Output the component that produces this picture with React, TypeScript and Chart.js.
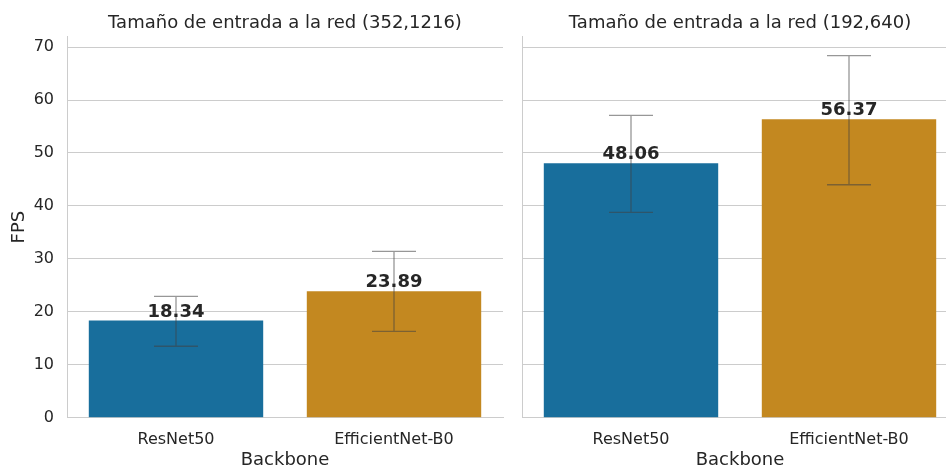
import React, { useEffect, useRef } from "react";
import { Chart, registerables } from "chart.js";

Chart.register(...registerables);

const categories = ["ResNet50", "EfficientNet-B0"];
const fpsLarge = [18.34, 23.89];
const fpsSmall = [48.06, 56.37];
const ciLowLarge = [13.5, 16.3];
const ciHighLarge = [22.9, 31.4];
const ciLowSmall = [38.8, 44.0];
const ciHighSmall = [57.1, 68.4];
const titleLarge = "Tamaño de entrada a la red (352,1216)";
const titleSmall = "Tamaño de entrada a la red (192,640)";
const yLabel = "FPS";
const xLabel = "Backbone";
const barColors = ["#186e9c", "#c38820"];

const FONT = "'DejaVu Sans', sans-serif";
const TEXT = "#262626";
const GRID = "#cccccc";

function makeConfig(values: number[], lo: number[], hi: number[], title: string, showY: boolean): any {
  const overlay = {
    id: "errAndLabels",
    afterDatasetsDraw(chart: any) {
      const ctx = chart.ctx;
      const meta = chart.getDatasetMeta(0);
      const y = chart.scales.y;
      ctx.save();
      ctx.strokeStyle = "rgba(66,66,66,0.55)";
      ctx.lineWidth = 1.3;
      meta.data.forEach((bar: any, i: number) => {
        const x = bar.x;
        const yh = y.getPixelForValue(hi[i]);
        const yl = y.getPixelForValue(lo[i]);
        ctx.beginPath();
        ctx.moveTo(x, yh);
        ctx.lineTo(x, yl);
        ctx.moveTo(x - 22, yh);
        ctx.lineTo(x + 22, yh);
        ctx.moveTo(x - 22, yl);
        ctx.lineTo(x + 22, yl);
        ctx.stroke();
      });
      ctx.fillStyle = TEXT;
      ctx.font = `bold 18px ${FONT}`;
      ctx.textAlign = "center";
      ctx.textBaseline = "alphabetic";
      meta.data.forEach((bar: any, i: number) => {
        ctx.fillText(values[i].toFixed(2), bar.x, bar.y - 4);
      });
      ctx.restore();
    },
  };
  return {
    type: "bar",
    data: {
      labels: categories,
      datasets: [
        {
          data: values,
          backgroundColor: barColors,
          borderWidth: 0,
          barPercentage: 0.8,
          categoryPercentage: 1.0,
        },
      ],
    },
    options: {
      responsive: false,
      animation: false,
      devicePixelRatio: 1,
      layout: { padding: { left: 0, top: 0, bottom: 0, right: showY ? 9 : 0 } },
      plugins: {
        legend: { display: false },
        tooltip: { enabled: false },
        title: {
          display: true,
          text: title,
          fullSize: false,
          color: TEXT,
          font: { family: FONT, size: 18, weight: "normal", lineHeight: 1.2 },
          padding: { top: 12.2, bottom: 2.7 },
        },
      },
      scales: {
        x: {
          grid: { display: false, drawTicks: false },
          border: { display: true, color: GRID, width: 1 },
          ticks: { color: TEXT, font: { family: FONT, size: 16 }, padding: 13 },
          title: {
            display: true,
            text: xLabel,
            color: TEXT,
            font: { family: FONT, size: 18, lineHeight: 1 },
            padding: { top: 0, bottom: -1 },
          },
          afterFit: (s: any) => {
            s.height = 50.3;
          },
        },
        y: {
          min: 0,
          max: 72,
          grid: { color: GRID, lineWidth: 1, drawTicks: false },
          border: { display: true, color: GRID, width: 1 },
          ticks: {
            display: showY,
            stepSize: 10,
            includeBounds: false,
            color: TEXT,
            font: { family: FONT, size: 16 },
            padding: 13,
          },
          title: {
            display: showY,
            text: yLabel,
            color: TEXT,
            font: { family: FONT, size: 18, lineHeight: 1.2 },
            padding: { top: 8.5, bottom: 0 },
          },
          afterFit: (s: any) => {
            s.width = showY ? 67 : 10;
          },
        },
      },
    },
    plugins: [overlay],
  };
}

export default function App() {
  const leftRef = useRef<HTMLCanvasElement>(null);
  const rightRef = useRef<HTMLCanvasElement>(null);

  useEffect(() => {
    const c1 = new Chart(leftRef.current as HTMLCanvasElement, makeConfig(fpsLarge, ciLowLarge, ciHighLarge, titleLarge, true));
    const c2 = new Chart(rightRef.current as HTMLCanvasElement, makeConfig(fpsSmall, ciLowSmall, ciHighSmall, titleSmall, false));
    return () => {
      c1.destroy();
      c2.destroy();
    };
  }, []);

  return (
    <div
      style={{
        position: "fixed",
        left: 0,
        top: 0,
        width: 946,
        height: 468,
        overflow: "hidden",
        background: "#ffffff",
      }}
    >
      <canvas
        ref={leftRef}
        width={512}
        height={468}
        style={{ position: "absolute", left: 0, top: 0, width: 512, height: 468 }}
      />
      <canvas
        ref={rightRef}
        width={446}
        height={468}
        style={{ position: "absolute", left: 512, top: 0, width: 446, height: 468 }}
      />
    </div>
  );
}
